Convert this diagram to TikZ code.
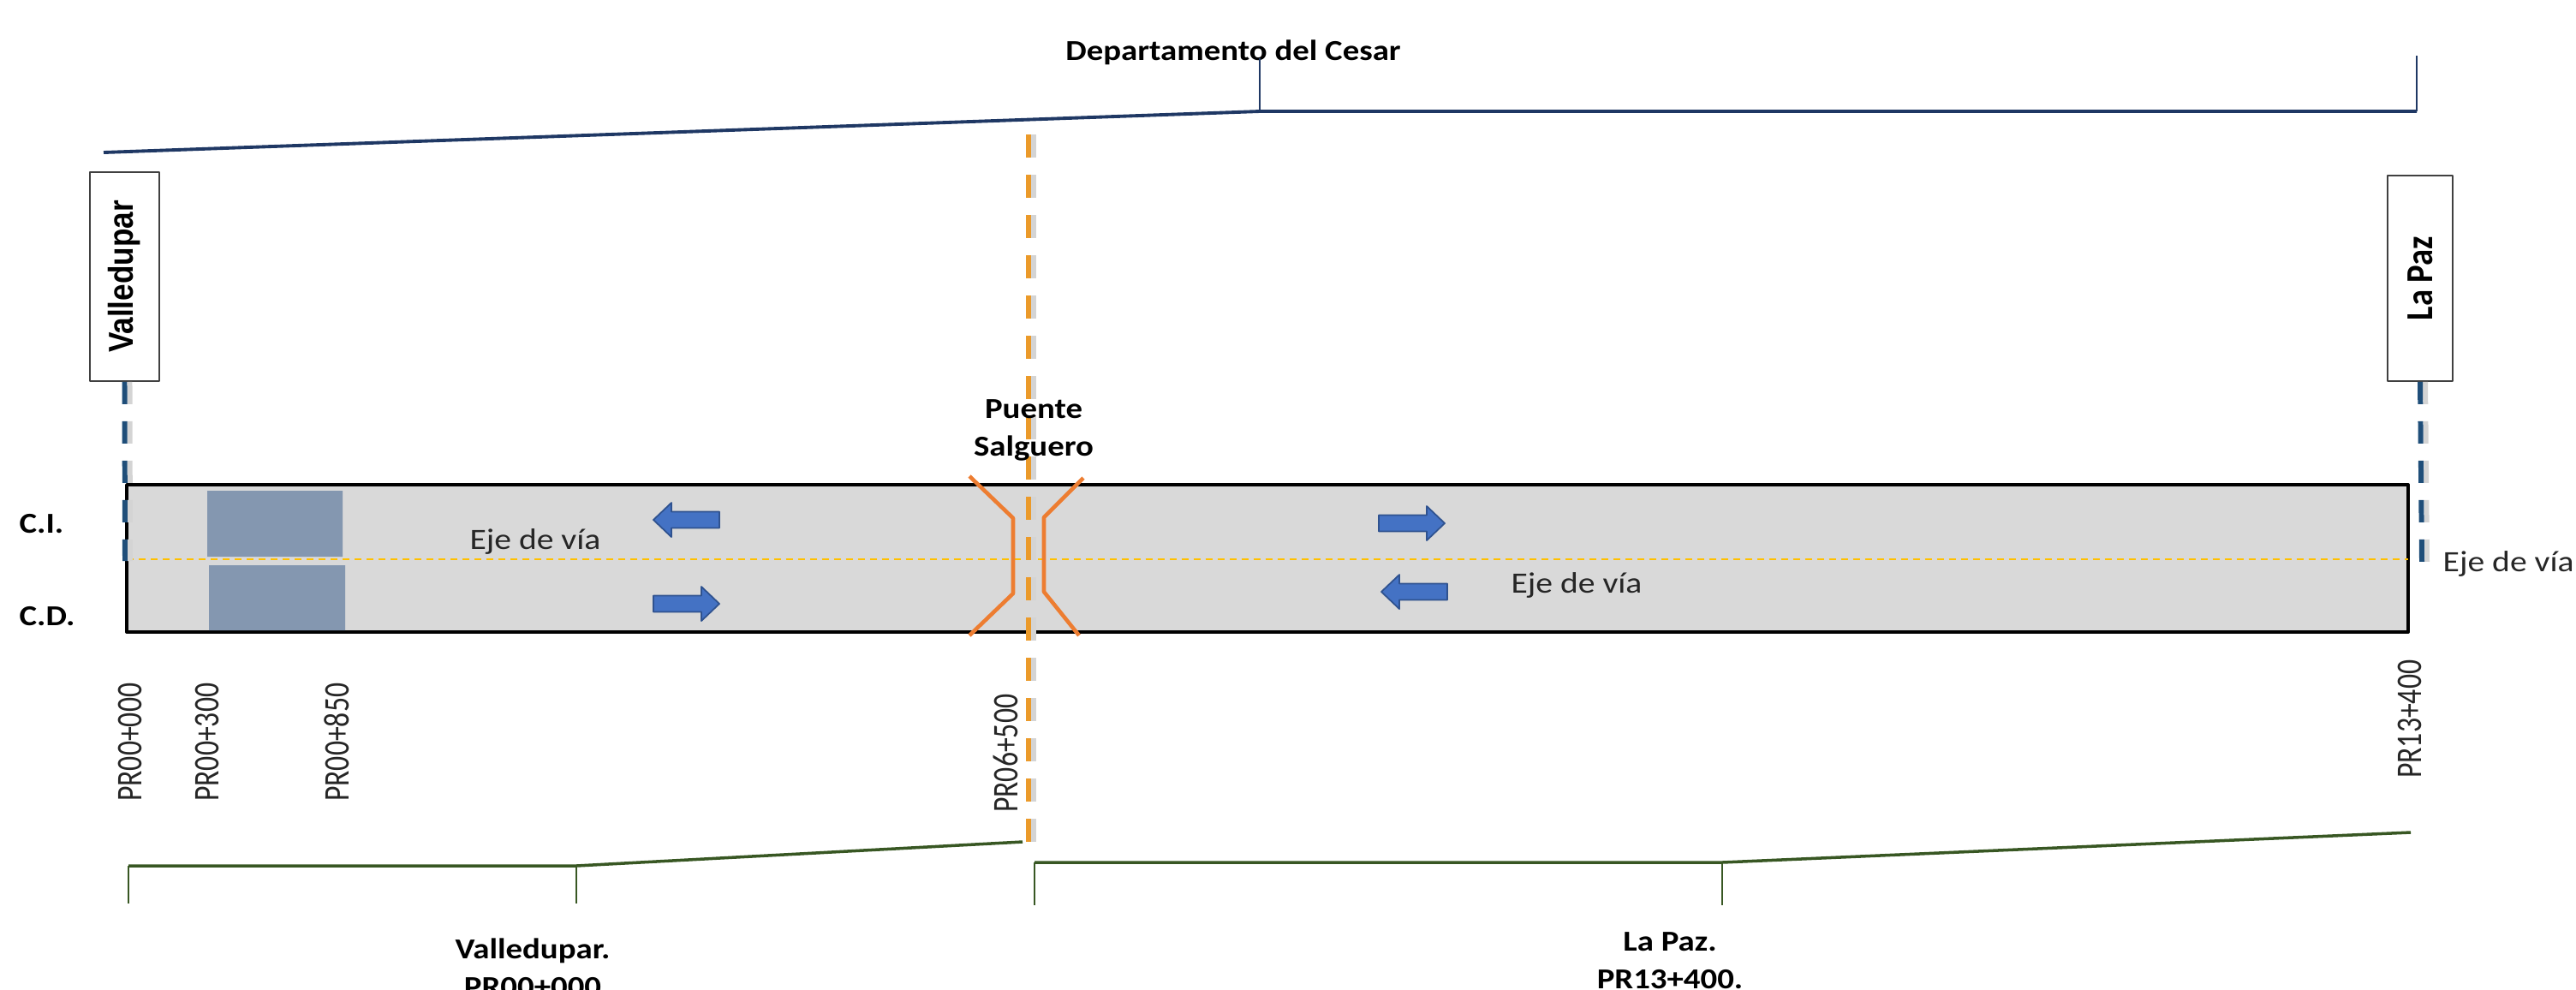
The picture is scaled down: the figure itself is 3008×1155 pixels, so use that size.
\documentclass[tikz,border=0pt]{standalone}
\usepackage{fontspec}
\setmainfont{Carlito}[FakeStretch=1.15]
\newfontfamily\rotfont{Carlito}
\newfontfamily\arialfont{Liberation Sans}
\usetikzlibrary{calc,positioning}
\definecolor{marino}{HTML}{1F3864}
\definecolor{verde}{HTML}{385723}
\definecolor{gris}{HTML}{D9D9D9}
\definecolor{bloque}{HTML}{8497B0}
\definecolor{azul}{HTML}{4472C4}
\definecolor{azuloscuro}{HTML}{2F528F}
\definecolor{acero}{HTML}{1F4E79}
\definecolor{amarillo}{HTML}{FFC000}
\definecolor{naranja}{HTML}{ED7D31}
\definecolor{ocre}{HTML}{EB9A2A}
\newcommand\vtext[2][1.15]{\rotatebox{90}{\scalebox{1}[#1]{#2}}}

\begin{document}
\begin{tikzpicture}[x=0.1mm,y=-0.1mm,line join=round,
  lab/.style={font=\fontsize{9.6}{12.5}\selectfont\bfseries,inner sep=0pt},
  eje/.style={font=\fontsize{9.8}{12}\selectfont,text=black!85,inner sep=0pt,anchor=base},
  pr/.style={font=\rotfont\fontsize{9.6}{11}\selectfont,text=black!85,inner sep=0pt,anchor=north},
  caja/.style={draw=black!75,line width=0.5pt,fill=white,font=\rotfont\fontsize{11}{13}\selectfont\bfseries,inner sep=0pt},
  trazo/.style={line width=1.7pt,dash pattern=on 2.6mm off 2mm},
  sombra/.style={trazo,draw=black!17},
  flecha/.style={fill=azul,draw=azuloscuro,line width=0.5pt},
  puente/.style={naranja,line width=1.3pt}]
\useasboundingbox (0,0) rectangle (3008,1155);
\clip (0,0) rectangle (3008,1155);
\coordinate (A) at (148,566);
\coordinate (B) at (2812,738);
\coordinate (M1) at (148,653);
\coordinate (M2) at (2812,653);
\draw[fill=gris,line width=1.1pt] (A) rectangle (B);
\fill[bloque] (242,573) rectangle (400,650) (244,660) rectangle (403,736);
\draw[amarillo,line width=0.5pt,dash pattern=on 0.8mm off 0.6mm] (M1) -- (M2);
\foreach \x/\y/\dir in {840/607/-1,763/705/1,1610/611/1,1690/691/-1}{
\draw[flecha] ({\x},{\y-9.5}) -- ({\x+(\dir)*56},{\y-9.5}) -- ({\x+(\dir)*56},{\y-20}) -- ({\x+(\dir)*77},{\y}) -- ({\x+(\dir)*56},{\y+20}) -- ({\x+(\dir)*56},{\y+9.5}) -- ({\x},{\y+9.5}) -- cycle;}
\node[caja,minimum width=8.1mm,minimum height=24.4mm,font=\arialfont\fontsize{10}{12}\selectfont\bfseries] (vbox) at (145.5,323) {\vtext{Valledupar}};
\node[caja,minimum width=7.6mm,minimum height=24mm] (pbox) at (2826,325) {\vtext{La Paz}};
\coordinate (V1) at (146,655);
\coordinate (P1) at (2828,657);
\coordinate (O1) at (1201,157);
\coordinate (O2) at (1201,990);
\draw[sombra] ($(vbox.south)+(6,0)$) -- ($(V1)+(6,0)$);
\draw[sombra] ($(pbox.south)+(6,0)$) -- ($(P1)+(6,0)$);
\draw[trazo,acero] (vbox.south) -- (V1);
\draw[trazo,acero] (pbox.south) -- (P1);
\draw[sombra,dash pattern=on 2.7mm off 2mm] ($(O1)+(6,0)$) -- ($(O2)+(6,0)$);
\draw[trazo,ocre,dash pattern=on 2.7mm off 2mm] (O1) -- (O2);
\draw[puente] (1132,556) -- (1183,605) -- (1183,693) -- (1132,742);
\draw[puente] (1265,558) -- (1219,604) -- (1219,691) -- (1260,742);
\node[lab,anchor=base] (dep) at (1440,70) {Departamento del Cesar};
\draw[marino,line width=1.1pt] (121,178) -- (1471,130) -- (2822,130);
\draw[marino,line width=0.6pt] (1471,130) -- (1471,68) (2822,130) -- (2822,65);
\node[lab,align=center,anchor=south] (ps) at (1207,539) {Puente\\Salguero};
\node[lab,anchor=base west] (ci) at (22,622) {C.I.};
\node[lab,anchor=base west] (cd) at (22,730) {C.D.};
\node[eje] (e1) at (625,641) {Eje de vía};
\node[eje] (e2) at (1841,692) {Eje de vía};
\node[eje,anchor=base west] (e3) at (2852,667) {Eje de vía};
\foreach \x/\y/\t [count=\i] in {152/797/PR00+000,242/797/PR00+300,393/797/PR00+850,1174/810/PR06+500,2814/770/PR13+400}{
\node[pr] (pr\i) at (\x,\y) {\vtext[1.25]{\t}};}
\draw[verde,line width=1pt] (150,1011) -- (673,1011) -- (1194,983);
\draw[verde,line width=0.6pt] (150,1011) -- (150,1055) (673,1011) -- (673,1055);
\draw[verde,line width=1pt] (1208,1007) -- (2011,1007) -- (2815,972);
\draw[verde,line width=0.6pt] (1208,1007) -- (1208,1057) (2011,1007) -- (2011,1057);
\node[lab,align=center,anchor=north] (vt) at (622,1095) {Valledupar.\\PR00+000};
\node[lab,align=center,anchor=north] (lt) at (1950,1088) {La Paz.\\PR13+400.};
\end{tikzpicture}
\end{document}
